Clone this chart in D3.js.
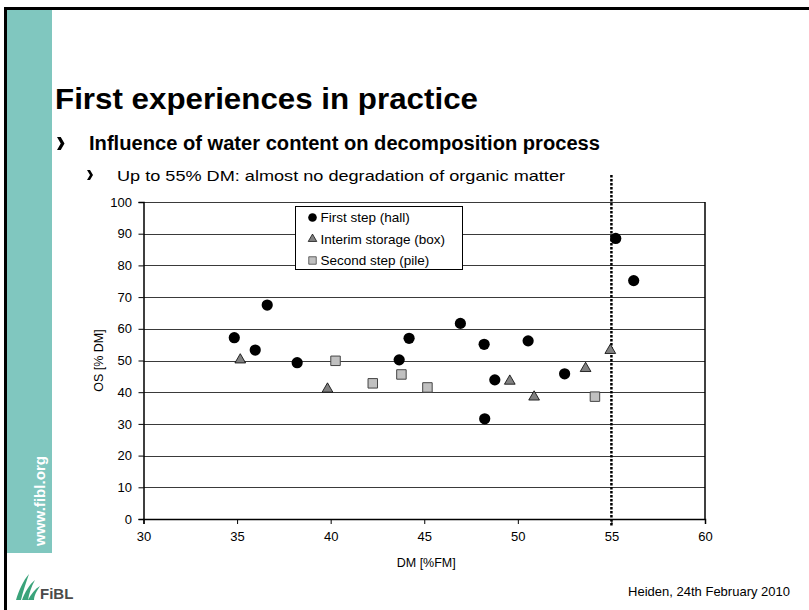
<!DOCTYPE html>
<html>
<head>
<meta charset="utf-8">
<script src="https://cdn.jsdelivr.net/npm/d3@7"></script>
<style>
  html, body { margin: 0; padding: 0; background: #fff; }
  svg { display: block; font-family: "Liberation Sans", Arial, sans-serif; }
</style>
</head>
<body>
<svg id="slide" width="809" height="610"></svg>
<script>
// Dry matter (DM, % of fresh matter) vs. organic substance (OS, % of DM)
const firstStepDM = [34.85, 35.97, 36.61, 38.21, 43.66, 44.19, 46.93, 48.2, 48.23, 48.77, 50.55, 52.5, 55.23, 56.19];
const firstStepOS = [57.2, 53.3, 67.5, 49.3, 50.2, 57.0, 61.7, 55.1, 31.6, 43.9, 56.2, 45.8, 88.5, 75.2];

const interimDM = [35.17, 39.83, 49.57, 50.87, 53.62, 54.94];
const interimOS = [50.2, 41.0, 43.5, 38.5, 47.5, 53.2];

const secondStepDM = [40.26, 42.25, 43.78, 45.17, 54.12];
const secondStepOS = [49.9, 42.8, 45.6, 41.5, 38.6];

const seriesNames = ["First step (hall)", "Interim storage (box)", "Second step (pile)"];
const xTicks = [30, 35, 40, 45, 50, 55, 60];
const yTicks = [0, 10, 20, 30, 40, 50, 60, 70, 80, 90, 100];
const thresholdDM = 55;

const svg = d3.select("#slide");

// ---- slide frame and side bar ----
svg.append("rect").attr("x", 7).attr("y", 10).attr("width", 45).attr("height", 543).attr("fill", "#80c7bf");
svg.append("line").attr("x1", 5.5).attr("x2", 5.5).attr("y1", 7).attr("y2", 610).attr("stroke", "#000").attr("stroke-width", 3);
svg.append("line").attr("x1", 4).attr("x2", 809).attr("y1", 8.5).attr("y2", 8.5).attr("stroke", "#000").attr("stroke-width", 3);

svg.append("text")
  .attr("transform", "translate(45,546) rotate(-90)")
  .attr("fill", "#fff").attr("font-weight", "bold").attr("font-size", 14.5)
  .attr("textLength", 90).attr("lengthAdjust", "spacingAndGlyphs")
  .text("www.fibl.org");

// ---- logo ----
const logo = svg.append("g").attr("transform", "translate(14,574)");
logo.append("path")
  .attr("d", "M2,26 C5,16 9,7 15,0 C12,9 9,17 7,26 Z M8,26 C11,18 15,11 21,6 C17,13 15,20 14,26 Z M14,26 C17,20 21,15 26,12 C22,18 20,22 20,26 Z")
  .attr("fill", "#3aa37a");
logo.append("text").attr("x", 26).attr("y", 25).attr("font-size", 15).attr("font-weight", "bold")
  .attr("fill", "#4a4a4a").text("FiBL");

// ---- headings ----
svg.append("text").attr("x", 55).attr("y", 109)
  .attr("font-size", 30).attr("font-weight", "bold").attr("fill", "#000")
  .attr("textLength", 423).attr("lengthAdjust", "spacingAndGlyphs")
  .text("First experiences in practice");

function chevron(cx, cy, h, w) {
  svg.append("path")
    .attr("d", `M${cx},${cy - h} L${cx + w * 0.5},${cy - h} L${cx + w},${cy} L${cx + w * 0.5},${cy + h} L${cx},${cy + h} L${cx + w * 0.5},${cy} Z`)
    .attr("fill", "#000");
}
chevron(57, 143.5, 6.5, 7.5);
svg.append("text").attr("x", 89).attr("y", 150)
  .attr("font-size", 20).attr("font-weight", "bold").attr("fill", "#000")
  .attr("textLength", 511).attr("lengthAdjust", "spacingAndGlyphs")
  .text("Influence of water content on decomposition process");

chevron(87, 175, 5, 6);
svg.append("text").attr("x", 117).attr("y", 180.5)
  .attr("font-size", 15).attr("fill", "#000")
  .attr("textLength", 448).attr("lengthAdjust", "spacingAndGlyphs")
  .text("Up to 55% DM: almost no degradation of organic matter");

svg.append("text").attr("x", 790).attr("y", 596).attr("text-anchor", "end")
  .attr("font-size", 13).attr("fill", "#000")
  .text("Heiden, 24th February 2010");

// ---- chart ----
const x = d3.scaleLinear().domain([30, 60]).range([143.5, 705]);
const y = d3.scaleLinear().domain([0, 100]).range([519, 202]);

const chart = svg.append("g");

// horizontal gridlines
chart.selectAll("line.grid").data(yTicks.filter(v => v > 0)).join("line")
  .attr("class", "grid")
  .attr("x1", x(30)).attr("x2", x(60))
  .attr("y1", d => Math.round(y(d)) + 0.5).attr("y2", d => Math.round(y(d)) + 0.5)
  .attr("stroke", "#3a3a3a").attr("stroke-width", 1);

// right border
chart.append("line").attr("x1", x(60)).attr("x2", x(60)).attr("y1", y(100)).attr("y2", y(0))
  .attr("stroke", "#000").attr("stroke-width", 1.5);

// axes
const yAxis = chart.append("g").attr("transform", `translate(${x(30)},0)`)
  .call(d3.axisLeft(y).tickValues(yTicks).tickSize(5).tickPadding(6.5));
const xAxis = chart.append("g").attr("transform", `translate(0,${y(0)})`)
  .call(d3.axisBottom(x).tickValues(xTicks).tickSize(5).tickPadding(8));
[yAxis, xAxis].forEach(a => {
  a.select(".domain").attr("stroke", "#000").attr("stroke-width", 1.5);
  a.selectAll(".tick line").attr("stroke", "#000");
  a.selectAll(".tick text").attr("font-size", 13).attr("fill", "#000")
    .attr("font-family", "'Liberation Sans', Arial, sans-serif");
});

chart.append("text").attr("x", (x(30) + x(60)) / 2 + 2).attr("y", 567)
  .attr("text-anchor", "middle").attr("font-size", 12.5).attr("fill", "#000").text("DM [%FM]");
chart.append("text").attr("transform", `translate(103,${y(50)}) rotate(-90)`)
  .attr("text-anchor", "middle").attr("font-size", 12.5).attr("fill", "#000").text("OS [% DM]");

// threshold at 55 % DM
chart.append("line").attr("x1", x(thresholdDM)).attr("x2", x(thresholdDM)).attr("y1", 175).attr("y2", 527)
  .attr("stroke", "#000").attr("stroke-width", 2.5).attr("stroke-dasharray", "2.5,1.5");

// series markers
const circles = d3.range(firstStepDM.length).map(i => [firstStepDM[i], firstStepOS[i]]);
const triangles = d3.range(interimDM.length).map(i => [interimDM[i], interimOS[i]]);
const squares = d3.range(secondStepDM.length).map(i => [secondStepDM[i], secondStepOS[i]]);

const triSym = d3.symbol().type(d3.symbolTriangle).size(50);
const sqSym = d3.symbol().type(d3.symbolSquare).size(90);

chart.selectAll("path.tri").data(triangles).join("path").attr("class", "tri")
  .attr("transform", d => `translate(${x(d[0])},${y(d[1])})`)
  .attr("d", triSym).attr("fill", "#808080").attr("stroke", "#000").attr("stroke-width", 0.8);
chart.selectAll("path.sq").data(squares).join("path").attr("class", "sq")
  .attr("transform", d => `translate(${x(d[0])},${y(d[1])})`)
  .attr("d", sqSym).attr("fill", "#c0c0c0").attr("stroke", "#444").attr("stroke-width", 1);
chart.selectAll("circle.pt").data(circles).join("circle").attr("class", "pt")
  .attr("cx", d => x(d[0])).attr("cy", d => y(d[1])).attr("r", 5.6).attr("fill", "#000");

// legend
const legend = chart.append("g").attr("transform", "translate(295.5,206.5)");
legend.append("rect").attr("width", 167).attr("height", 63).attr("fill", "#fff").attr("stroke", "#000").attr("stroke-width", 1);
const rows = legend.selectAll("g.row").data(seriesNames).join("g").attr("class", "row")
  .attr("transform", (d, i) => `translate(17,${11 + i * 21.5})`);
rows.each(function(d, i) {
  const g = d3.select(this);
  if (i === 0) g.append("circle").attr("r", 4.3).attr("fill", "#000");
  if (i === 1) g.append("path").attr("d", d3.symbol().type(d3.symbolTriangle).size(32)).attr("fill", "#808080").attr("stroke", "#000").attr("stroke-width", 0.7);
  if (i === 2) g.append("path").attr("d", d3.symbol().type(d3.symbolSquare).size(56)).attr("fill", "#c0c0c0").attr("stroke", "#444").attr("stroke-width", 0.8);
  g.append("text").attr("x", 8).attr("y", 4.5).attr("font-size", 13.5).attr("fill", "#000").text(d);
});
</script>
</body>
</html>
